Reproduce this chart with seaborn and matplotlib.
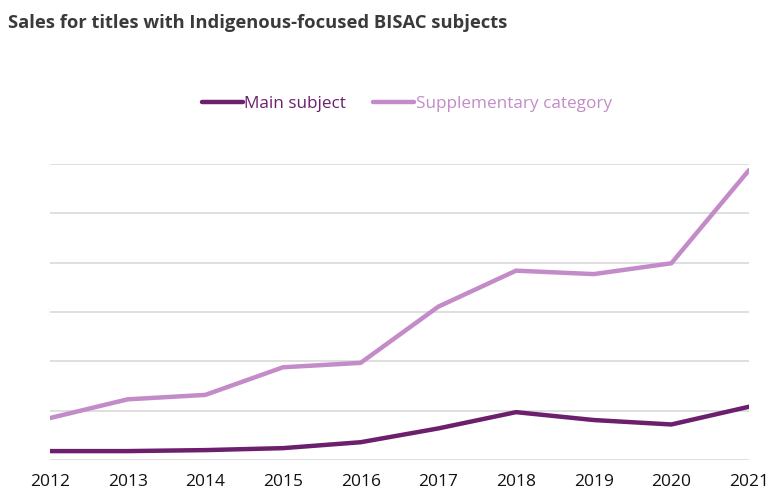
import numpy as np
import pandas as pd
import matplotlib.pyplot as plt
import seaborn as sns

years = [2012, 2013, 2014, 2015, 2016, 2017, 2018, 2019, 2020, 2021]
main_subject = [0.18, 0.18, 0.20, 0.24, 0.36, 0.64, 0.97, 0.81, 0.72, 1.08]
supplementary = [0.85, 1.23, 1.32, 1.88, 1.97, 3.11, 3.84, 3.77, 3.99, 5.88]
series_names = ['Main subject', 'Supplementary category']
colors = ['#6b1f6d', '#c38bc8']

df = pd.DataFrame({
    'year': years * 2,
    'sales': main_subject + supplementary,
    'series': [series_names[0]] * len(years) + [series_names[1]] * len(years),
})

sns.set_style('white')
plt.rcParams['font.family'] = ['Open Sans', 'DejaVu Sans']

fig = plt.figure(figsize=(7.75, 4.93), dpi=100)
ax = fig.add_axes([0.0645, 0.067, 0.902, 0.6])

sns.lineplot(data=df, x='year', y='sales', hue='series', palette=colors,
             linewidth=3.2, ax=ax, legend=False)

ax.set_xlim(2012, 2021)
ax.set_ylim(0, 6)
ax.set_yticks(range(0, 7))
ax.set_yticklabels([])
ax.set_xticks(years)
ax.set_xticklabels([str(y) for y in years], fontsize=12.5, color='#111111')
ax.tick_params(axis='x', length=0, pad=10)
ax.tick_params(axis='y', length=0)
ax.yaxis.grid(True, color='#d9d9d9', linewidth=1.2)
ax.xaxis.grid(False)
for s in ax.spines.values():
    s.set_visible(False)
ax.set_xlabel('')
ax.set_ylabel('')
ax.set_axisbelow(True)

handles = [plt.Line2D([], [], color=c, linewidth=3.2) for c in colors]
fig.legend(handles, series_names, loc='center', bbox_to_anchor=(0.525, 0.79),
           ncol=2, frameon=False, fontsize=12.3, labelcolor=colors,
           handlelength=2.4, handletextpad=0.1, columnspacing=1.6)

fig.text(0.01, 0.953, 'Sales for titles with Indigenous-focused BISAC subjects',
         fontsize=13.2, fontweight='bold', color='#3a3a3a', va='center', ha='left')

fig.savefig('out.png', dpi=100, facecolor='white')
